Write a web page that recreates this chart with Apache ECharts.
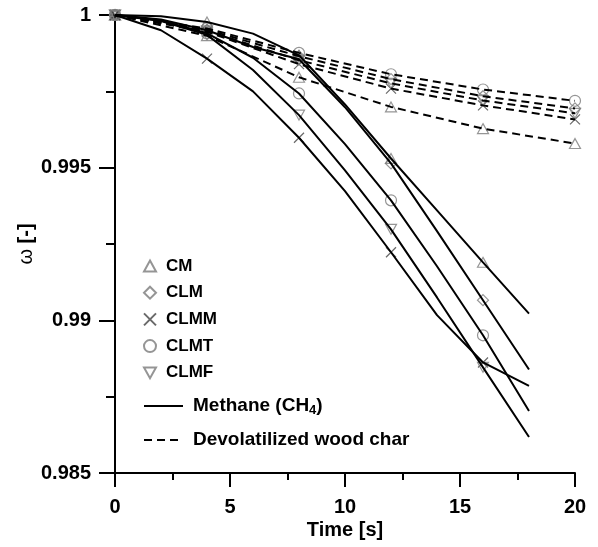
<!DOCTYPE html>
<html>
<head>
<meta charset="utf-8">
<script src="https://cdn.jsdelivr.net/npm/echarts@6/dist/echarts.min.js"></script>
<style>
  html, body { margin: 0; padding: 0; background: #fff; }
  #chart { width: 598px; height: 547px; }
</style>
</head>
<body>
<div id="chart"></div>
<script>
// time axis of the two fuels
const tMethane = [0, 2, 4, 6, 8, 10, 12, 14, 16, 18];
const tChar = [0, 4, 8, 12, 16, 20];
const cases = ['CM', 'CLM', 'CLMM', 'CLMT', 'CLMF'];

// methane (CH4) – solid lines
const methaneCM   = [1, 0.99996, 0.99977, 0.99939, 0.99868, 0.99707, 0.99530, 0.99360, 0.99190, 0.99022];
const methaneCLM  = [1, 0.99985, 0.99950, 0.99895, 0.99855, 0.99698, 0.99514, 0.99292, 0.99066, 0.98839];
const methaneCLMM = [1, 0.99950, 0.99857, 0.99750, 0.99598, 0.99423, 0.99223, 0.99017, 0.98862, 0.98785];
const methaneCLMT = [1, 0.99982, 0.99940, 0.99860, 0.99743, 0.99577, 0.99393, 0.99177, 0.98951, 0.98703];
const methaneCLMF = [1, 0.99980, 0.99935, 0.99820, 0.99672, 0.99491, 0.99298, 0.99075, 0.98846, 0.98618];

// devolatilized wood char – dashed lines
const charCM   = [1, 0.99932, 0.99796, 0.99699, 0.99628, 0.99579];
const charCLM  = [1, 0.99952, 0.99865, 0.99790, 0.99734, 0.99694];
const charCLMM = [1, 0.99945, 0.99839, 0.99759, 0.99704, 0.99658];
const charCLMT = [1, 0.99956, 0.99876, 0.99806, 0.99756, 0.99719];
const charCLMF = [1, 0.99948, 0.99852, 0.99776, 0.99720, 0.99678];

const yTicks = [0.985, 0.99, 0.995, 1];

const methane = [methaneCM, methaneCLM, methaneCLMM, methaneCLMT, methaneCLMF];
const charData = [charCM, charCLM, charCLMM, charCLMT, charCLMF];

const FONT = '"Liberation Sans", Arial, sans-serif';
const MARK = '#7a7a7a';
const symbols = [
  'path://M5,0L10,9L0,9Z',          // triangle up
  'path://M6,0L12,6L6,12L0,6Z',     // diamond
  'path://M0,0L10,10M10,0L0,10',    // cross
  'circle',
  'path://M0,0L10,0L5,9Z'           // triangle down
];

const series = [];
cases.forEach((c, i) => {
  series.push({
    name: 'Methane (CH4)',
    type: 'line',
    data: tMethane.map((t, k) => [t, methane[i][k]]),
    symbol: 'none',
    lineStyle: { color: '#000', width: 2 },
    itemStyle: { color: '#000' },
    z: 3
  });
  series.push({
    name: 'Devolatilized wood char',
    type: 'line',
    data: tChar.map((t, k) => [t, charData[i][k]]),
    symbol: 'none',
    lineStyle: { color: '#000', width: 2, type: [8, 5] },
    itemStyle: { color: '#000' },
    z: 3
  });
});
cases.forEach((c, i) => {
  const pts = [];
  tMethane.forEach((t, k) => { if (t % 4 === 0) pts.push([t, methane[i][k]]); });
  tChar.forEach((t, k) => pts.push([t, charData[i][k]]));
  series.push({
    name: c,
    type: 'scatter',
    data: pts,
    symbol: symbols[i],
    symbolKeepAspect: true,
    symbolSize: c === 'CLMM' ? 10 : 11,
    itemStyle: {
      color: 'rgba(0,0,0,0)',
      borderColor: c === 'CLMM' ? '#444' : MARK,
      borderWidth: 1.2
    },
    z: 2
  });
});

const chart = echarts.init(document.getElementById('chart'));
chart.setOption({
  animation: false,
  backgroundColor: '#fff',
  textStyle: { fontFamily: FONT, color: '#000' },
  grid: { left: 115, right: 23, top: 15, bottom: 74 },
  legend: [
    {
      data: cases,
      orient: 'vertical',
      left: 138,
      top: 251,
      itemWidth: 12,
      itemHeight: 12,
      itemGap: 6.7,
      textStyle: {
        fontFamily: FONT, fontWeight: 'bold', fontSize: 17, lineHeight: 20, color: '#000',
        padding: [0, 0, 0, 5]
      }
    },
    {
      data: ['Methane (CH4)', 'Devolatilized wood char'],
      orient: 'vertical',
      left: 138,
      top: 390,
      itemWidth: 39,
      itemHeight: 12,
      itemGap: 12,
      itemStyle: { opacity: 0 },
      formatter: name => name.replace('CH4', 'CH{sub|4}'),
      textStyle: {
        fontFamily: FONT, fontWeight: 'bold', fontSize: 19, lineHeight: 22, color: '#000',
        padding: [0, 0, 0, 5],
        rich: {
          sub: { fontFamily: FONT, fontWeight: 'bold', fontSize: 13, lineHeight: 10, verticalAlign: 'bottom' }
        }
      }
    }
  ],
  xAxis: {
    type: 'value',
    min: 0,
    max: 20,
    interval: 5,
    name: 'Time [s]',
    nameLocation: 'middle',
    nameGap: 47,
    nameMoveOverlap: false,
    nameTextStyle: { fontFamily: FONT, fontWeight: 'bold', fontSize: 20, color: '#000' },
    axisLine: { lineStyle: { color: '#000', width: 2 } },
    axisTick: { length: 14, lineStyle: { color: '#000', width: 2 } },
    minorTick: { show: true, splitNumber: 2, length: 7, lineStyle: { color: '#000', width: 2 } },
    splitLine: { show: false },
    axisLabel: { margin: 24, fontFamily: FONT, fontWeight: 'bold', fontSize: 20, color: '#000' }
  },
  yAxis: {
    type: 'value',
    min: yTicks[0],
    max: yTicks[yTicks.length - 1],
    interval: 0.005,
    name: '{w|ω} [-]',
    nameLocation: 'middle',
    nameGap: 79,
    nameMoveOverlap: false,
    nameTextStyle: {
      fontFamily: FONT, fontWeight: 'bold', fontSize: 20, color: '#000',
      rich: { w: { fontFamily: FONT, fontWeight: 'normal', fontSize: 20, color: '#000' } }
    },
    axisLine: { show: true, lineStyle: { color: '#000', width: 2 } },
    axisTick: { show: true, length: 16, lineStyle: { color: '#000', width: 2 } },
    minorTick: { show: true, splitNumber: 2, length: 9, lineStyle: { color: '#000', width: 2 } },
    splitLine: { show: false },
    axisLabel: {
      margin: 24, fontFamily: FONT, fontWeight: 'bold', fontSize: 20, color: '#000',
      formatter: v => String(parseFloat(v.toFixed(3)))
    }
  },
  series: series
});
</script>
</body>
</html>
